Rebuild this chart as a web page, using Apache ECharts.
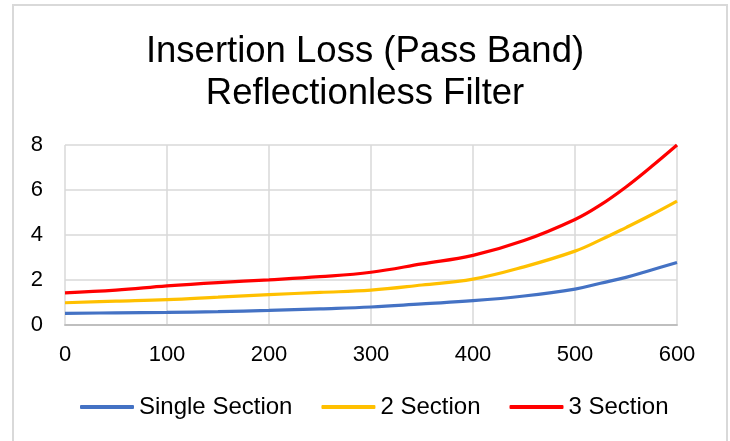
<!DOCTYPE html>
<html>
<head>
<meta charset="utf-8">
<script src="https://cdn.jsdelivr.net/npm/echarts@6/dist/echarts.min.js"></script>
<style>
html,body{margin:0;padding:0;background:#fff;}
#chart{width:730px;height:441px;}
</style>
</head>
<body>
<div id="chart"></div>
<script>
const titleLines = ['Insertion Loss (Pass Band)', 'Reflectionless Filter'];
const seriesNames = ['Single Section', '2 Section', '3 Section'];
const xValues = [0, 50, 100, 150, 200, 250, 300, 350, 400, 450, 500, 525, 550, 575, 600];
const singleSection = [0.50, 0.52, 0.54, 0.57, 0.63, 0.70, 0.78, 0.92, 1.06, 1.27, 1.58, 1.84, 2.10, 2.43, 2.76];
const twoSection = [0.97, 1.04, 1.11, 1.22, 1.33, 1.43, 1.53, 1.76, 2.02, 2.57, 3.27, 3.77, 4.32, 4.89, 5.50];
const threeSection = [1.41, 1.53, 1.72, 1.87, 1.99, 2.13, 2.33, 2.70, 3.08, 3.74, 4.68, 5.33, 6.13, 7.04, 8.00];
const colors = ['#4472C4', '#FFC000', '#FF0000'];

function pairs(ys) { return xValues.map((x, i) => [x, ys[i]]); }
const allSeries = [singleSection, twoSection, threeSection];

const chart = echarts.init(document.getElementById('chart'), null, {renderer: 'canvas'});
const font = '"Liberation Sans", Arial, sans-serif';
chart.setOption({
  animation: false,
  backgroundColor: '#fff',
  color: colors,
  graphic: [{
    type: 'rect', shape: {x: 13, y: 5, width: 714, height: 460},
    style: {fill: 'none', stroke: '#d9d9d9', lineWidth: 2}, silent: true, z: -1
  }],
  title: {
    text: titleLines.join('\n'),
    left: 'center', top: 26,
    textStyle: {fontFamily: font, fontSize: 36.5, fontWeight: 'normal', color: '#000', lineHeight: 42}
  },
  legend: {
    data: seriesNames,
    bottom: 17, left: 75,
    icon: 'roundRect', itemWidth: 54, itemHeight: 4, itemGap: 29,
    textStyle: {fontFamily: font, fontSize: 24, color: '#000'}
  },
  grid: {left: 65, right: 53, top: 145, bottom: 116.5, containLabel: false},
  xAxis: {
    type: 'value', min: 0, max: 600, interval: 100,
    axisLine: {show: true, lineStyle: {color: '#bfbfbf', width: 2}},
    axisTick: {show: false},
    splitLine: {show: true, lineStyle: {color: '#d9d9d9', width: 1.5}},
    axisLabel: {fontFamily: font, fontSize: 22, color: '#000', margin: 19}
  },
  yAxis: {
    type: 'value', min: 0, max: 8, interval: 2,
    axisLine: {show: false},
    axisTick: {show: false},
    splitLine: {show: true, lineStyle: {color: '#d9d9d9', width: 1.5}},
    axisLabel: {fontFamily: font, fontSize: 22, color: '#000', margin: 22}
  },
  series: seriesNames.map((name, i) => ({
    name: name, type: 'line', data: pairs(allSeries[i]),
    smooth: 0.4, symbol: 'none', clip: false,
    lineStyle: {width: 3.2, color: colors[i]}
  }))
});
</script>
</body>
</html>
